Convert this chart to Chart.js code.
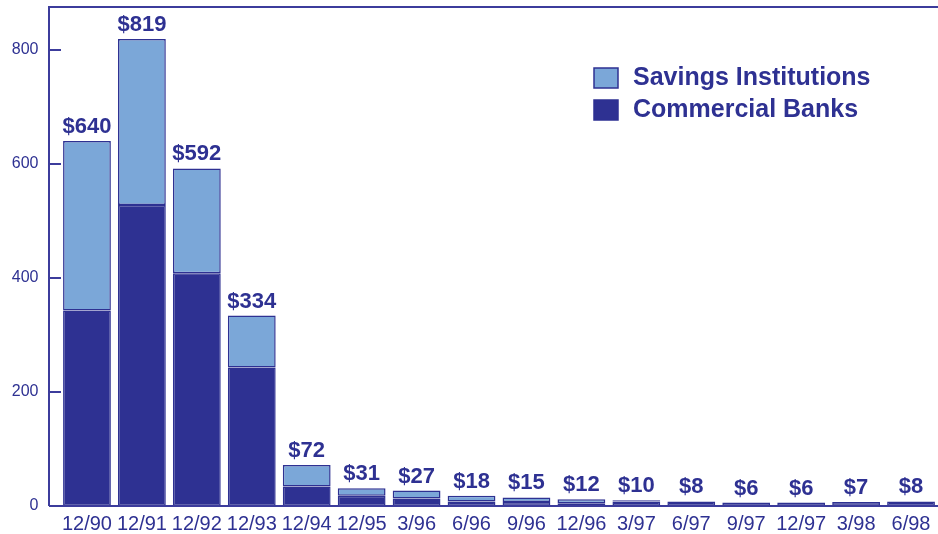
<!DOCTYPE html>
<html>
<head>
<meta charset="utf-8">
<script src="https://cdn.jsdelivr.net/npm/chart.js@4/dist/chart.umd.min.js"></script>
<style>
html,body{margin:0;padding:0;background:#fff;overflow:hidden;}
#wrap{width:938px;height:534px;overflow:hidden;}
</style>
</head>
<body>
<div id="wrap"><canvas id="c" width="940" height="534"></canvas></div>
<script>
const categories = ["12/90","12/91","12/92","12/93","12/94","12/95","3/96","6/96","9/96","12/96","3/97","6/97","9/97","12/97","3/98","6/98"];
const commercialBanks = [343, 528, 408, 243, 34, 18, 13, 8, 7, 5, 8, 8, 6, 6, 7, 8];
const savingsInstitutions = [297, 291, 184, 91, 38, 13, 14, 10, 8, 7, 2, 0, 0, 0, 0, 0];
const totalLabels = ["$640","$819","$592","$334","$72","$31","$27","$18","$15","$12","$10","$8","$6","$6","$7","$8"];
const yTicks = [0, 200, 400, 600, 800];

const NAVY = "#2E3192";
const LIGHT = "#7BA7D8";
const AXIS = "#3C3C9C";
const AXIS_OFFSET = 10.5;

const framePlugin = {
  id: "frame",
  afterDraw(chart) {
    const ctx = chart.ctx;
    const a = chart.chartArea;
    const y = chart.scales.y;
    const x0 = a.left - AXIS_OFFSET;
    ctx.save();
    ctx.strokeStyle = AXIS;
    ctx.lineWidth = 2;
    ctx.beginPath();
    ctx.moveTo(x0, a.bottom);
    ctx.lineTo(x0, a.top);
    ctx.lineTo(chart.width, a.top);
    ctx.moveTo(x0, a.bottom);
    ctx.lineTo(chart.width, a.bottom);
    yTicks.forEach(v => {
      const py = Math.round(y.getPixelForValue(v));
      ctx.moveTo(x0, py);
      ctx.lineTo(x0 + 12, py);
    });
    ctx.stroke();

    // value labels
    const top = chart.getDatasetMeta(1);
    const bot = chart.getDatasetMeta(0);
    ctx.fillStyle = NAVY;
    ctx.font = "bold 22px 'Liberation Sans', Arial, sans-serif";
    ctx.textAlign = "center";
    ctx.textBaseline = "alphabetic";
    totalLabels.forEach((t, i) => {
      const e = top.data[i], b = bot.data[i];
      const py = Math.min(e.y, b.y);
      ctx.fillText(t, e.x, py - 8);
    });

    // legend
    const ds = chart.data.datasets;
    const items = [ds[1], ds[0]];
    ctx.textAlign = "left";
    ctx.font = "bold 25px 'Liberation Sans', Arial, sans-serif";
    items.forEach((d, k) => {
      const by = 68 + k * 32;
      ctx.fillStyle = d.backgroundColor;
      ctx.fillRect(594, by, 24, 20);
      ctx.strokeStyle = NAVY;
      ctx.lineWidth = 1.5;
      ctx.strokeRect(594, by, 24, 20);
      ctx.fillStyle = NAVY;
      ctx.fillText(d.label, 633, by + 17);
    });
    ctx.restore();
  }
};

function zeroPad(s) { s.paddingTop = 0; s.paddingBottom = 0; s.paddingLeft = 0; s.paddingRight = 0; }

new Chart(document.getElementById("c"), {
  type: "bar",
  data: {
    labels: categories,
    datasets: [
      { label: "Commercial Banks", data: commercialBanks, backgroundColor: NAVY, borderColor: NAVY, borderWidth: 1.5, borderSkipped: false },
      { label: "Savings Institutions", data: savingsInstitutions, backgroundColor: LIGHT, borderColor: NAVY, borderWidth: 1.5, borderSkipped: false }
    ]
  },
  options: {
    responsive: false,
    animation: false,
    layout: { autoPadding: false, padding: { left: 0, right: 1.5, top: 7, bottom: 0 } },
    datasets: { bar: { barPercentage: 0.87, categoryPercentage: 1 } },
    plugins: { legend: { display: false }, tooltip: { enabled: false } },
    scales: {
      x: {
        stacked: true,
        grid: { display: false, drawTicks: false },
        border: { display: false },
        ticks: { color: NAVY, font: { family: "'Liberation Sans', Arial, sans-serif", size: 20 }, padding: 6, maxRotation: 0, autoSkip: false },
        afterFit(s) { s.height = 28; zeroPad(s); }
      },
      y: {
        stacked: true,
        min: 0, max: 875,
        grid: { display: false, drawTicks: false },
        border: { display: false },
        afterBuildTicks(s) { s.ticks = yTicks.map(v => ({ value: v })); },
        ticks: { color: NAVY, font: { family: "'Liberation Sans', Arial, sans-serif", size: 16 }, padding: 21 },
        afterFit(s) { s.width = 59.5; zeroPad(s); }
      }
    }
  },
  plugins: [framePlugin]
});
</script>
</body>
</html>
